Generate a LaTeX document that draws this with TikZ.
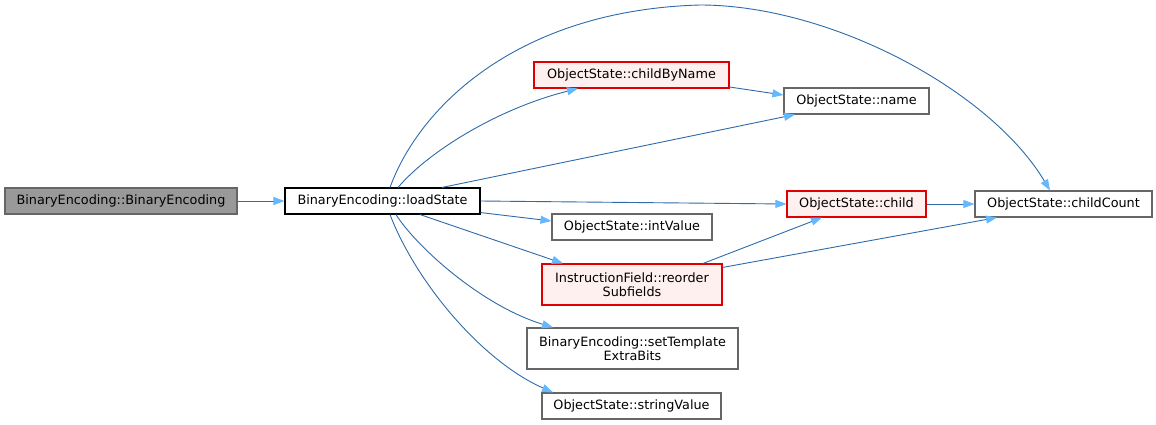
\documentclass[tikz,border=0pt]{standalone}
\usepackage{fontspec}
\setmainfont{DejaVu Sans}
\usetikzlibrary{arrows.meta}
\definecolor{edgeblue}{HTML}{2F6BAA}
\definecolor{tipblue}{HTML}{63B8FF}
\definecolor{grayfill}{HTML}{999999}
\definecolor{grayborder}{HTML}{666666}
\definecolor{redfill}{HTML}{FFF0F0}
\definecolor{redborder}{HTML}{E00000}
\begin{document}
\begin{tikzpicture}[x=1pt,y=-1pt,
  box/.style={draw=grayborder,fill=white,line width=1.1pt,inner sep=0pt,align=center,
    font=\fontsize{12.8}{14.5}\selectfont},
  rootbox/.style={box,fill=grayfill},
  mainbox/.style={box,draw=black},
  redbox/.style={box,draw=redborder,fill=redfill},
  edge/.style={draw=edgeblue,line width=0.9pt,-{Triangle[length=11pt,width=8pt,color=tipblue]}}]
\useasboundingbox (0,0) rectangle (1156,424);
\fill[white] (0,0) rectangle (1156,424);

\node[rootbox,minimum width=232pt,minimum height=26pt] (be) at (121,201) {BinaryEncoding::BinaryEncoding};
\node[mainbox,minimum width=195pt,minimum height=26pt] (ls) at (382.5,201) {BinaryEncoding::loadState};
\node[redbox,minimum width=195pt,minimum height=26pt] (cbn) at (631.5,75) {ObjectState::childByName};
\node[box,minimum width=145pt,minimum height=26pt] (nm) at (856.5,101) {ObjectState::name};
\node[redbox,minimum width=139pt,minimum height=26pt] (ch) at (856.5,204) {ObjectState::child};
\node[box,minimum width=177pt,minimum height=26pt] (cc) at (1063.5,204) {ObjectState::childCount};
\node[box,minimum width=160pt,minimum height=26pt] (iv) at (632,227) {ObjectState::intValue};
\node[redbox,minimum width=180pt,minimum height=41pt] (rs) at (632,284.5) {InstructionField::reorder\\Subfields};
\node[box,minimum width=211pt,minimum height=41pt] (st) at (632.5,348.5) {BinaryEncoding::setTemplate\\ExtraBits};
\node[box,minimum width=179pt,minimum height=26pt] (sv) at (631.5,406) {ObjectState::stringValue};

\draw[edge] (be.east) -- (ls.west);
\draw[edge] ([xshift=7.5pt]ls.north) .. controls (420,105) and (520,10) .. (700,5)
  .. controls (830,5) and (990,90) .. ([xshift=-13.5pt]cc.north);
\draw[edge] ([xshift=15.5pt]ls.north) .. controls (430,150) and (500,108) .. ([xshift=-53.5pt]cbn.south);
\draw[edge] ([xshift=59.5pt]ls.north) -- ([xshift=-61.5pt]nm.south);
\draw[edge] (ls.east) -- (ch.west);
\draw[edge] ([yshift=2pt]ls.south east) -- ([yshift=6pt]iv.west);
\draw[edge] ([xshift=37.5pt]ls.south) -- ([xshift=-69pt]rs.north);
\draw[edge] ([xshift=13.5pt]ls.south) .. controls (415,245) and (480,305) .. ([xshift=-79.5pt]st.north);
\draw[edge] ([xshift=7.5pt]ls.south) .. controls (415,280) and (480,360) .. ([xshift=-78.5pt]sv.north);
\draw[edge] ([yshift=-12pt]cbn.east) -- ([yshift=6pt]nm.west);
\draw[edge] (ch.east) -- (cc.west);
\draw[edge] ([xshift=71pt]rs.north) -- ([xshift=-34.5pt]ch.south);
\draw[edge] ([yshift=-4pt]rs.north east) -- ([xshift=-66.5pt]cc.south);
\end{tikzpicture}
\end{document}
